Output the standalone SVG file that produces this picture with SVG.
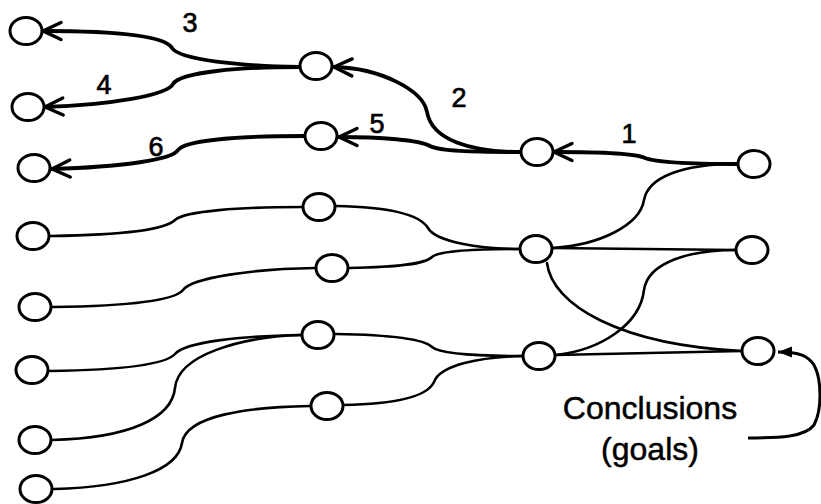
<svg xmlns="http://www.w3.org/2000/svg" width="821" height="504" viewBox="0 0 821 504">
  <style>
    .node ellipse { fill: #fff; stroke: #000; stroke-width: 3; }
    .edge { fill: none; stroke: #000; stroke-width: 2.6; stroke-linecap: round; }
    .chain { fill: none; stroke: #000; stroke-width: 3.8; stroke-linecap: round; marker-end: url(#chevron); }
    .loop { fill: none; stroke: #000; stroke-width: 3; marker-end: url(#tri); }
    .num { font-family: "Liberation Sans", Arial, sans-serif; font-size: 27px; fill: #000; stroke: #000; stroke-width: 0.7; text-anchor: middle; }
    .caption { font-family: "Liberation Sans", Arial, sans-serif; font-size: 32px; fill: #000; stroke: #000; stroke-width: 0.5; text-anchor: middle; }
  </style>
  <defs>
    <marker id="chevron" markerUnits="userSpaceOnUse" orient="auto" overflow="visible" refX="0" refY="0" markerWidth="20" markerHeight="20">
      <path d="M -18 -8.5 L 0 0 L -18 8.5" fill="none" stroke="#000" stroke-width="3.4" stroke-linecap="round" stroke-linejoin="round"/>
    </marker>
    <marker id="tri" markerUnits="userSpaceOnUse" orient="auto" overflow="visible" refX="0" refY="0" markerWidth="16" markerHeight="12">
      <path d="M -14 -5.5 L 0 0 L -14 5.5 Z" fill="#000"/>
    </marker>
  </defs>

  <!-- connectors -->
  <g id="connectors">
    <!-- thin links -->
    <path class="edge" d="M 737 164 C 680 164, 648 178, 644 200 C 640 225, 600 245, 553 248"/>
    <path class="edge" d="M 553 248 L 736 250"/>
    <path class="edge" d="M 736 250 C 690 250, 648 262, 644 290 C 640 325, 600 350, 556 355"/>
    <path class="edge" d="M 547 263 C 552 305, 620 345, 742 351"/>
    <path class="edge" d="M 556 355 L 742 351"/>
    <path class="edge" d="M 336 206 C 390 207, 420 215, 428 228 C 436 242, 480 249, 520 249"/>
    <path class="edge" d="M 349 268 C 400 267, 425 264, 432 257 C 440 250, 480 249, 520 249"/>
    <path class="edge" d="M 51 236 C 120 235, 165 230, 175 220 C 185 211, 240 207, 302 207"/>
    <path class="edge" d="M 53 307 C 130 306, 175 300, 183 290 C 192 278, 250 269, 315 268"/>
    <path class="edge" d="M 50 371 C 120 370, 165 365, 175 354 C 185 342, 240 336, 301 335"/>
    <path class="edge" d="M 52 440 C 130 438, 172 418, 175 388 C 178 355, 240 337, 301 335"/>
    <path class="edge" d="M 54 489 C 130 487, 178 470, 182 443 C 186 415, 250 407, 310 406"/>
    <path class="edge" d="M 336 334 C 400 335, 425 340, 432 347 C 440 354, 480 356, 522 356"/>
    <path class="edge" d="M 343 405 C 400 404, 428 395, 434 382 C 440 365, 480 357, 522 356"/>

    <!-- numbered chain -->
    <path class="chain" d="M 737 164 C 690 164, 655 162, 645 158 C 635 153, 600 152, 554 152"/>
    <path class="chain" d="M 521 152 C 470 152, 432 140, 427 112 C 423 90, 380 68, 334 67"/>
    <path class="chain" d="M 521 152 C 470 152, 440 151, 430 146 C 420 140, 380 137, 339 137"/>
    <path class="chain" d="M 300 67 C 240 66, 180 60, 172 48 C 165 36, 120 31, 43 31"/>
    <path class="chain" d="M 300 67 C 240 67, 180 72, 173 84 C 168 95, 110 105, 45 107"/>
    <path class="chain" d="M 305 136 C 240 136, 185 140, 178 150 C 172 160, 120 167, 52 169"/>

    <!-- feedback to the goal -->
    <path class="loop" d="M 748 438 C 780 438, 805 437, 814 425 C 822 410, 822 380, 814 365 C 808 356, 800 352, 778 352"/>
  </g>

  <!-- column 1 -->
  <g id="n-l1" class="node"><ellipse cx="26" cy="31" rx="16" ry="13.5"/></g>
  <g id="n-l2" class="node"><ellipse cx="28" cy="107" rx="16" ry="13.5"/></g>
  <g id="n-l3" class="node"><ellipse cx="34" cy="168" rx="16" ry="13.5"/></g>
  <g id="n-l4" class="node"><ellipse cx="33" cy="236" rx="16" ry="13.5"/></g>
  <g id="n-l5" class="node"><ellipse cx="35" cy="307" rx="16" ry="13.5"/></g>
  <g id="n-l6" class="node"><ellipse cx="32" cy="370" rx="16" ry="13.5"/></g>
  <g id="n-l7" class="node"><ellipse cx="35" cy="440" rx="16" ry="13.5"/></g>
  <g id="n-l8" class="node"><ellipse cx="36" cy="489" rx="16" ry="13.5"/></g>

  <!-- column 2 -->
  <g id="n-m1" class="node"><ellipse cx="316" cy="66" rx="16" ry="13.5"/></g>
  <g id="n-m2" class="node"><ellipse cx="321" cy="136" rx="16" ry="13.5"/></g>
  <g id="n-m3" class="node"><ellipse cx="319" cy="207" rx="16" ry="13.5"/></g>
  <g id="n-m4" class="node"><ellipse cx="332" cy="268" rx="16" ry="13.5"/></g>
  <g id="n-m5" class="node"><ellipse cx="318" cy="335" rx="16" ry="13.5"/></g>
  <g id="n-m6" class="node"><ellipse cx="327" cy="406" rx="16" ry="13.5"/></g>

  <!-- column 3 -->
  <g id="n-r1" class="node"><ellipse cx="537" cy="152" rx="16" ry="13.5"/></g>
  <g id="n-r2" class="node"><ellipse cx="536" cy="249" rx="16" ry="13.5"/></g>
  <g id="n-r3" class="node"><ellipse cx="539" cy="356" rx="16" ry="13.5"/></g>

  <!-- column 4 -->
  <g id="n-f1" class="node"><ellipse cx="754" cy="164" rx="16" ry="13.5"/></g>
  <g id="n-f2" class="node"><ellipse cx="752" cy="250" rx="16" ry="13.5"/></g>
  <g id="n-f3" class="node"><ellipse cx="758" cy="351" rx="16" ry="13.5"/></g>

  <!-- step numbers -->
  <g id="labels">
    <text class="num" x="629" y="143" font-size="24">1</text>
    <text class="num" x="459" y="107">2</text>
    <text class="num" x="190" y="32">3</text>
    <text class="num" x="104" y="94">4</text>
    <text class="num" x="377" y="133">5</text>
    <text class="num" x="156" y="156">6</text>
  </g>

  <g id="caption">
    <text class="caption" x="650" y="419">Conclusions</text>
    <text class="caption" x="650" y="460">(goals)</text>
  </g>
</svg>
